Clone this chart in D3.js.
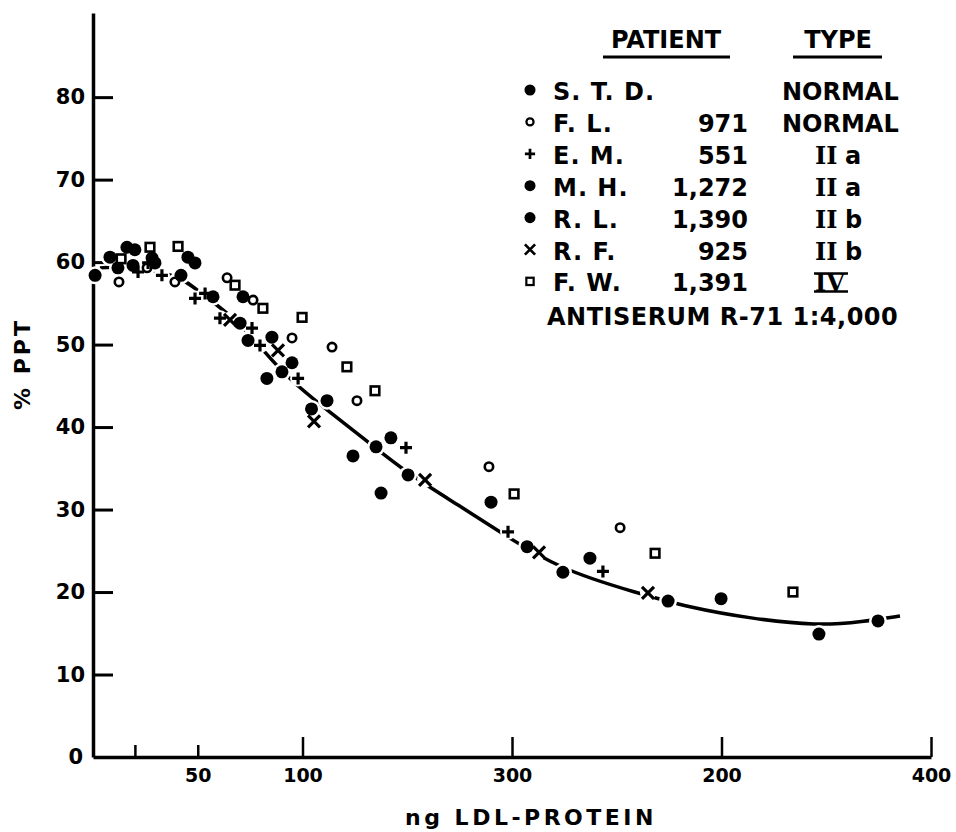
<!DOCTYPE html>
<html>
<head>
<meta charset="utf-8">
<script src="https://cdn.jsdelivr.net/npm/d3@7"></script>
<style>
	body { margin: 0; background: #fff; }
	.mainContainer { width: 956px; height: 832px; }
	text { font-family: "DejaVu Sans", sans-serif; font-weight: bold; fill: #000; }
</style>
</head>
<body>
<div class="mainContainer"></div>
<script>
// values: [ng LDL-protein, % PPT]
var stdData = [[1,58.4],[8.1,60.6],[16.2,61.8],[28.2,60.5],[45.3,60.6],[57.3,55.8],[74,50.5],[95,47.8],[111.7,43.2],[142.2,38.7],[190,30.9],[237.2,24.1],[299.8,19.2],[374.7,16.5]];
var flData = [[12.4,57.6],[25.8,59.3],[39.1,57.6],[64,58.1],[76.4,55.4],[95,50.8],[114.1,49.7],[126,43.2],[189,35.2],[251.6,27.8]];
var emData = [[21.5,58.8],[26.3,59.9],[32.9,58.4],[48.7,55.6],[53.5,56.2],[60.6,53.2],[75.9,52.0],[79.7,49.9],[97.9,45.9],[149.4,37.5],[198.1,27.3],[243.4,22.5]];
var mhData = [[11.9,59.3],[20,61.5],[29.6,59.9],[48.7,59.9],[71.6,55.8],[85.4,50.9],[90.2,46.7],[124.1,36.5],[150.4,34.2],[207.2,25.5],[274.5,18.9]];
var rlData = [[19.1,59.6],[42,58.4],[70.2,52.6],[83,45.9],[104.3,42.2],[135.1,37.6],[137.5,32.0],[224.3,22.4],[346.5,14.9]];
var rfData = [[65.4,53.0],[88.3,49.3],[105.5,40.7],[158.5,33.6],[212.9,24.8],[264.9,19.9]];
var fwData = [[13.4,60.4],[27.2,61.8],[40.6,61.9],[67.8,57.2],[81.1,54.4],[99.8,53.3],[121.2,47.3],[134.6,44.4],[201,31.9],[268.3,24.7],[334.1,20.0]];

// fitted curve
var fitX = [3.3, 22.4, 41.5, 47.7, 70.2, 81.1, 94.0, 113.1, 131.3, 149.9, 176.6, 192.8, 222.9, 259.7, 285.0, 313.6, 345.6, 367.5, 385.2];
var fitY = [59.3, 59.5, 58.2, 57.0, 52.7, 49.3, 45.7, 41.8, 38.2, 34.4, 30.2, 27.5, 22.7, 19.9, 18.1, 16.8, 15.9, 16.4, 17.1];

var xTicks = [20, 50, 100, 200, 300, 400];
var xTickLabels = ["", "50", "100", "300", "200", "400"];
var xTickShort = [true, true, false, false, false, false];
var yTicks = [0, 10, 20, 30, 40, 50, 60, 70, 80];

var legendMarks = ["dot", "ring", "plus", "dot", "dot", "cross", "square"];
var legendNames = ["S. T. D.", "F. L.", "E. M.", "M. H.", "R. L.", "R. F.", "F. W."];
var legendNums = ["", "971", "551", "1,272", "1,390", "925", "1,391"];
var legendRoman = ["", "", "II", "II", "II", "II", "IV"];
var legendTypes = ["NORMAL", "NORMAL", "a", "a", "b", "b", ""];

var series = [
	{mark: "dot", pts: stdData},
	{mark: "ring", pts: flData},
	{mark: "plus", pts: emData},
	{mark: "dot", pts: mhData},
	{mark: "dot", pts: rlData},
	{mark: "cross", pts: rfData},
	{mark: "square", pts: fwData}
];

var svg = d3.select('.mainContainer').append('svg').attr('width', 956).attr('height', 832);

var x = d3.scaleLinear().domain([0, 400]).range([93, 931]);
var y = d3.scaleLinear().domain([0, 90.2]).range([757, 13]);

// axes
var yAxis = d3.axisLeft(y).tickValues(yTicks).tickSizeInner(-20).tickSizeOuter(0).tickPadding(8);
var yg = svg.append('g').attr('transform', 'translate(93,0)').call(yAxis);
yg.selectAll('.tick line').attr('stroke-width', 3).filter(function(d) { return d === 0; }).remove();
yg.select('.domain').attr('stroke-width', 3.5);
yg.selectAll('text').style('font-size', '21px').style('font-family', '"DejaVu Sans", sans-serif').style('font-weight', 'bold');
yg.selectAll('.tick').filter(function(d) { return d === 0; }).select('text').attr('x', -10);

var xAxis = d3.axisBottom(x).tickValues(xTicks).tickSizeInner(-20).tickSizeOuter(0).tickPadding(12)
	.tickFormat(function(d, i) { return xTickLabels[i]; });
var xg = svg.append('g').attr('transform', 'translate(0,757)').call(xAxis);
xg.selectAll('.tick line').attr('stroke-width', 2.5).attr('y2', function(d, i) { return xTickShort[i] ? -12 : -20; });
xg.select('.domain').attr('stroke-width', 3.5);
xg.selectAll('text').style('font-size', '19px').style('font-family', '"DejaVu Sans", sans-serif').style('font-weight', 'bold');

svg.append('text').attr('x', 531).attr('y', 825).attr('text-anchor', 'middle')
	.style('font-size', '22px').style('letter-spacing', '3.5px').text('ng LDL-PROTEIN');
svg.append('text').attr('transform', 'translate(30,364) rotate(-90)').attr('text-anchor', 'middle')
	.style('font-size', '22px').style('letter-spacing', '3px').text('% PPT');

// curve
var fit = fitX.map(function(d, i) { return [d, fitY[i]]; });
var line = d3.line().x(function(d) { return x(d[0]); }).y(function(d) { return y(d[1]); }).curve(d3.curveBasis);
svg.append('path').datum(fit).attr('d', line).attr('fill', 'none').attr('stroke', '#000').attr('stroke-width', 3.5);

function markPath(kind, s) {
	if (kind === "plus") return "M" + (-s) + ",0H" + s + "M0," + (-s) + "V" + s;
	if (kind === "cross") return "M" + (-s) + "," + (-s) + "L" + s + "," + s + "M" + (-s) + "," + s + "L" + s + "," + (-s);
	return "";
}

function drawMark(g, kind, cx, cy, k) {
	if (kind === "dot") {
		g.append('circle').attr('cx', cx).attr('cy', cy).attr('r', 6.5 * k).attr('fill', '#000');
	} else if (kind === "ring") {
		g.append('circle').attr('cx', cx).attr('cy', cy).attr('r', 4.2 * k).attr('fill', '#fff').attr('stroke', '#000').attr('stroke-width', 2.6 * k);
	} else if (kind === "square") {
		g.append('rect').attr('x', cx - 4.3 * k).attr('y', cy - 4.3 * k).attr('width', 8.6 * k).attr('height', 8.6 * k)
			.attr('fill', '#fff').attr('stroke', '#000').attr('stroke-width', 2.6 * k);
	} else {
		g.append('path').attr('transform', 'translate(' + cx + ',' + cy + ')').attr('d', markPath(kind, 6 * k))
			.attr('fill', 'none').attr('stroke', '#000').attr('stroke-width', 3.2 * k);
	}
}

// white halos break the curve under the points
var halos = svg.append('g');
series.forEach(function(s) {
	s.pts.forEach(function(p) {
		halos.append('circle').attr('cx', x(p[0])).attr('cy', y(p[1])).attr('r', s.mark === "dot" ? 9 : 8).attr('fill', '#fff');
	});
});

var marks = svg.append('g');
series.forEach(function(s) {
	s.pts.forEach(function(p) {
		drawMark(marks, s.mark, x(p[0]), y(p[1]), 1);
	});
});

// legend
var lg = svg.append('g');
lg.append('text').attr('x', 666).attr('y', 48).attr('text-anchor', 'middle').style('font-size', '24px').text('PATIENT');
lg.append('line').attr('x1', 603).attr('x2', 730).attr('y1', 57).attr('y2', 57).attr('stroke', '#000').attr('stroke-width', 3);
lg.append('text').attr('x', 838).attr('y', 48).attr('text-anchor', 'middle').style('font-size', '24px').text('TYPE');
lg.append('line').attr('x1', 793).attr('x2', 882).attr('y1', 57).attr('y2', 57).attr('stroke', '#000').attr('stroke-width', 3);

for (var i = 0; i < legendNames.length; i++) {
	var cy = 90 + i * 31.9;
	drawMark(lg, legendMarks[i], 530, cy, 0.85);
	lg.append('text').attr('x', 553).attr('y', cy + 10).style('font-size', '24px').style('letter-spacing', '1px').text(legendNames[i]);
	lg.append('text').attr('x', 748).attr('y', cy + 10).attr('text-anchor', 'end').style('font-size', '24px').text(legendNums[i]);
	if (legendRoman[i]) {
		lg.append('text').attr('x', 815).attr('y', cy + 10).style('font-size', '24px')
			.style('font-family', '"DejaVu Serif", serif').text(legendRoman[i]);
		if (legendRoman[i] === "IV") {
			// bars above and below the numeral, as lettered in the original
			lg.append('line').attr('x1', 814).attr('x2', 848).attr('y1', cy - 8).attr('y2', cy - 8).attr('stroke', '#000').attr('stroke-width', 2.5);
			lg.append('line').attr('x1', 814).attr('x2', 848).attr('y1', cy + 10).attr('y2', cy + 10).attr('stroke', '#000').attr('stroke-width', 2.5);
		}
		lg.append('text').attr('x', 845).attr('y', cy + 10).style('font-size', '24px').text(legendTypes[i]);
	} else {
		lg.append('text').attr('x', 782).attr('y', cy + 10).style('font-size', '24px').text(legendTypes[i]);
	}
}
lg.append('text').attr('x', 547).attr('y', 325).style('font-size', '24px').style('letter-spacing', '0.5px').text('ANTISERUM  R-71  1:4,000');
</script>
</body>
</html>
